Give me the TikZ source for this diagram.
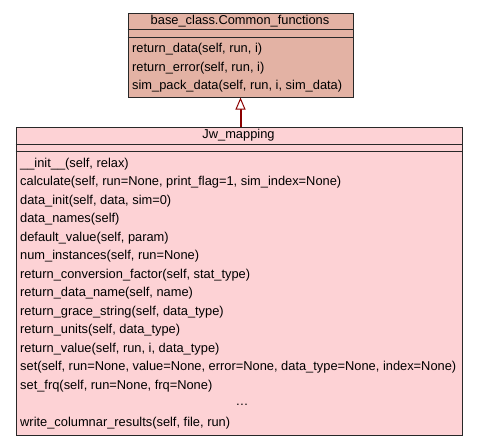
\documentclass[tikz,border=0pt]{standalone}
\usepackage{fontspec}
\setmainfont{Liberation Sans}
\usetikzlibrary{arrows.meta}
\definecolor{topfill}{RGB}{227,178,164}
\definecolor{botfill}{RGB}{253,210,213}
\definecolor{arrowred}{RGB}{139,0,0}
\definecolor{edge}{RGB}{40,40,40}
\tikzset{
  classbox/.style={draw=edge, line width=1pt, inner sep=0pt, anchor=north west},
  sep/.style={draw=edge, line width=1pt},
  txt/.style={inner sep=0pt, font=\fontsize{12.85}{14}\selectfont, text=black},
  meth/.style={txt, anchor=west},
}
\begin{document}
\begin{tikzpicture}[x=1pt,y=-1pt]
\useasboundingbox (0,0) rectangle (477,445);
\fill[white] (0,0) rectangle (477,445);
% top class
\node[classbox, fill=topfill, minimum width=225pt, minimum height=84pt] (base) at (127.5,12.5) {};
\draw[sep] (127.5,29) -- (352.5,29);
\draw[sep] (127.5,37) -- (352.5,37);
\node[txt] (basetitle) at (240,21.5) {base\_class.Common\_functions};
\node[meth] (b1) at (132,49.5) {return\_data(self, run, i)};
\node[meth] (b2) at (132,68) {return\_error(self, run, i)};
\node[meth] (b3) at (132,86.5) {sim\_pack\_data(self, run, i, sim\_data)};
% bottom class
\node[classbox, fill=botfill, minimum width=446pt, minimum height=308pt] (jw) at (15.5,126.5) {};
\draw[sep] (15.5,144) -- (461.5,144);
\draw[sep] (15.5,151.5) -- (461.5,151.5);
\node[txt] (jwtitle) at (238.5,135.5) {Jw\_mapping};
\node[meth] (j1) at (20,164) {\_\_init\_\_(self, relax)};
\node[meth] (j2) at (20,182.5) {calculate(self, run=None, print\_flag=1, sim\_index=None)};
\node[meth] (j3) at (20,201) {data\_init(self, data, sim=0)};
\node[meth] (j4) at (20,219.5) {data\_names(self)};
\node[meth] (j5) at (20,238) {default\_value(self, param)};
\node[meth] (j6) at (20,256.5) {num\_instances(self, run=None)};
\node[meth] (j7) at (20,275) {return\_conversion\_factor(self, stat\_type)};
\node[meth] (j8) at (20,293.5) {return\_data\_name(self, name)};
\node[meth] (j9) at (20,312) {return\_grace\_string(self, data\_type)};
\node[meth] (j10) at (20,330.5) {return\_units(self, data\_type)};
\node[meth] (j11) at (20,349) {return\_value(self, run, i, data\_type)};
\node[meth] (j12) at (20,367.5) {set(self, run=None, value=None, error=None, data\_type=None, index=None)};
\node[meth] (j13) at (20,386) {set\_frq(self, run=None, frq=None)};
\node[txt] (jdots) at (242,405) {\dots};
\node[meth] (j14) at (20,423) {write\_columnar\_results(self, file, run)};
% inheritance
\draw[arrowred, line width=2pt, -{Triangle[fill=white, length=12pt, width=10pt, line width=1pt]}] (base.south |- jw.north) -- (base.south);
\end{tikzpicture}
\end{document}
